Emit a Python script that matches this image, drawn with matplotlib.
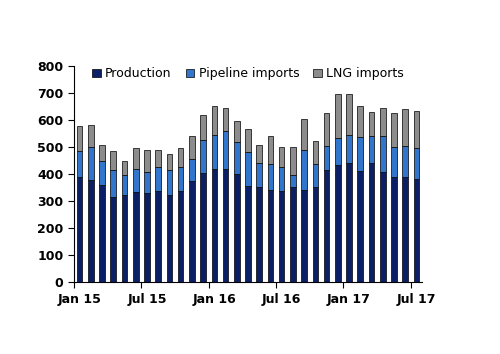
import matplotlib.pyplot as plt
import numpy as np

plt.rcParams['font.family'] = ['DejaVu Sans']

months = ["Jan 15", "Feb 15", "Mar 15", "Apr 15", "May 15", "Jun 15",
          "Jul 15", "Aug 15", "Sep 15", "Oct 15", "Nov 15", "Dec 15",
          "Jan 16", "Feb 16", "Mar 16", "Apr 16", "May 16", "Jun 16",
          "Jul 16", "Aug 16", "Sep 16", "Oct 16", "Nov 16", "Dec 16",
          "Jan 17", "Feb 17", "Mar 17", "Apr 17", "May 17", "Jun 17",
          "Jul 17"]

production = [389, 376, 359, 316, 322, 335, 330, 338, 322, 337, 374, 405,
              420, 420, 399, 356, 352, 341, 336, 351, 341, 352, 415, 432,
              441, 412, 441, 409, 389, 388, 381]
pipeline = [95, 125, 88, 97, 76, 82, 76, 88, 91, 88, 82, 120,
            123, 138, 118, 127, 90, 96, 90, 45, 147, 86, 90, 101,
            103, 125, 100, 133, 110, 116, 114]
lng = [94, 80, 62, 71, 49, 78, 84, 64, 61, 71, 85, 94,
       109, 86, 78, 85, 64, 102, 73, 102, 116, 83, 122, 164,
       152, 114, 90, 101, 128, 137, 138]

label_months = ["Jan 15", "Jul 15", "Jan 16", "Jul 16", "Jan 17", "Jul 17"]

x = np.arange(len(months))
prod = np.array(production)
pipe = np.array(pipeline)
gas = np.array(lng)

fig = plt.figure(figsize=(5, 3.54), dpi=100)
ax = fig.add_axes([0.148, 0.203, 0.696, 0.611])

w = 0.5
ax.bar(x, prod, w, color="#0a1f66", edgecolor="black", linewidth=0.5,
       label="Production")
ax.bar(x, pipe, w, bottom=prod, color="#3275cc", edgecolor="black",
       linewidth=0.5, label="Pipeline imports")
ax.bar(x, gas, w, bottom=prod + pipe, color="#8c8c8c", edgecolor="black",
       linewidth=0.5, label="LNG imports")

ax.set_xlim(-0.5, len(months) - 0.5)
ax.set_ylim(0, 800)
ax.set_yticks(range(0, 801, 100))

# tick marks between months, labels centred on the bars
idx = [months.index(m) for m in label_months]
ax.set_xticks([i - 0.5 for i in idx])
ax.set_xticklabels([])
ax.set_xticks(idx, minor=True)
ax.set_xticklabels(label_months, minor=True)
ax.tick_params(axis="x", which="minor", length=0, pad=8)
ax.tick_params(axis="x", which="major", length=4, width=0.8)
ax.tick_params(axis="y", length=4, width=0.8)

for lab in ax.get_yticklabels() + ax.get_xticklabels(minor=True):
    lab.set_fontweight("bold")
    lab.set_fontsize(9)

for s in ["top", "right"]:
    ax.spines[s].set_visible(False)
for s in ["left", "bottom"]:
    ax.spines[s].set_linewidth(0.8)

ax.legend(loc="upper center", bbox_to_anchor=(0.5, 1.045), ncol=3,
          frameon=False, fontsize=9, handlelength=0.7, handleheight=0.7,
          handletextpad=0.35, columnspacing=1.1)

fig.savefig("out.png", dpi=100)
